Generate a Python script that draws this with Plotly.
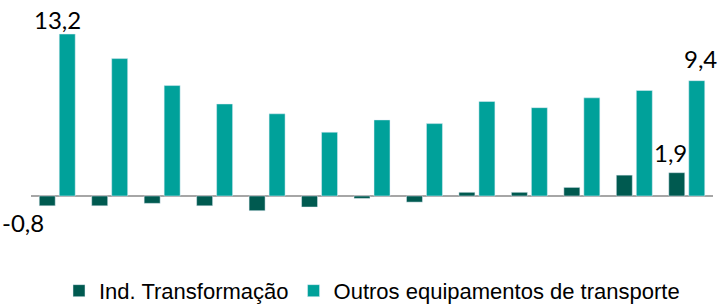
import plotly.graph_objects as go

categories = ["jan/22", "fev/22", "mar/22", "abr/22", "mai/22", "jun/22", "jul/22",
              "ago/22", "set/22", "out/22", "nov/22", "dez/22", "jan/23"]
ind_transformacao = [-0.8, -0.8, -0.6, -0.8, -1.2, -0.9, -0.2, -0.5, 0.3, 0.3, 0.7, 1.7, 1.9]
outros_equip = [13.2, 11.2, 9.0, 7.5, 6.7, 5.2, 6.2, 5.9, 7.7, 7.2, 8.0, 8.6, 9.4]

name_ind = "Ind. Transformação"
name_out = "Outros equipamentos de transporte"
col_ind = "#005A50"
col_out = "#00A19A"

def fmt(v):
    return f"{v:.1f}".replace(".", ",")

fig = go.Figure()
fig.add_trace(go.Bar(x=categories, y=ind_transformacao, name=name_ind,
                     marker=dict(color=col_ind)))
fig.add_trace(go.Bar(x=categories, y=outros_equip, name=name_out,
                     marker=dict(color=col_out)))

lab_font = dict(family="Lato, Calibri, sans-serif", size=24, color="#000000")
annots = [
    dict(x=categories[0], y=outros_equip[0], text=fmt(outros_equip[0]),
         xshift=0, yshift=-2, yanchor="bottom"),
    dict(x=categories[0], y=ind_transformacao[0], text=fmt(ind_transformacao[0]),
         xshift=-34, yshift=0, yanchor="top"),
    dict(x=categories[-1], y=ind_transformacao[-1], text=fmt(ind_transformacao[-1]),
         xshift=-16, yshift=4, yanchor="bottom"),
    dict(x=categories[-1], y=outros_equip[-1], text=fmt(outros_equip[-1]),
         xshift=14, yshift=6, yanchor="bottom"),
]
for a in annots:
    fig.add_annotation(showarrow=False, xanchor="center", font=lab_font, **a)

fig.update_layout(
    width=720, height=305,
    margin=dict(l=31, r=7, t=30, b=90, autoexpand=False),
    paper_bgcolor="white", plot_bgcolor="white",
    barmode="group", bargap=0.238, bargroupgap=0.2,
    showlegend=True,
    legend=dict(orientation="h", x=0.5, xanchor="center", y=-0.41, yanchor="middle",
                font=dict(family="Liberation Sans, Arial, sans-serif",
                          size=22, color="#000000"),
                itemwidth=30, tracegroupgap=0, entrywidth=0),
    xaxis=dict(type="category", range=[-0.5, len(categories) - 0.5],
               showticklabels=False, showgrid=False, zeroline=False, showline=False,
               ticks=""),
    yaxis=dict(range=[-1.55, 13.53], showticklabels=False, showgrid=False,
               zeroline=True, zerolinecolor="#A6A6A6", zerolinewidth=2,
               showline=False, ticks=""),
)

fig.write_html("out.html", config={"displayModeBar": False},
               post_script="document.body.style.margin='0';document.body.style.overflow='hidden';")
